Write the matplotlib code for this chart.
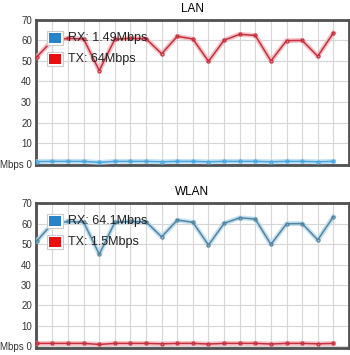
import matplotlib.pyplot as plt
import matplotlib.patheffects as pe
from matplotlib.patches import Rectangle

plt.rcParams['font.family'] = ['Liberation Sans', 'DejaVu Sans']

# samples (one per tick of the refresh interval)
samples = list(range(20))

lan_rx = [1.0, 1.1, 1.1, 1.1, 0.6, 1.1, 1.1, 1.1, 0.9, 1.1, 1.1, 0.9, 1.1, 1.1, 1.1, 0.9, 1.1, 1.1, 0.9, 1.1]
lan_tx = [52, 60, 61, 60.7, 45.3, 60.6, 61, 60.8, 53.5, 62, 60.7, 49.8, 60.1, 63, 62.4, 50, 59.9, 60, 52.3, 63.6]

wlan_rx = [51.5, 60, 61, 60.7, 45, 60.6, 61, 60.8, 53.5, 61.7, 60.6, 49.5, 60.1, 62.8, 62.2, 49.8, 59.9, 60, 52, 63.3]
wlan_tx = [1.5, 1.5, 1.5, 1.5, 1.0, 1.5, 1.5, 1.5, 1.3, 1.5, 1.5, 1.2, 1.5, 1.5, 1.5, 1.2, 1.5, 1.5, 1.3, 1.5]

yticks = [0, 10, 20, 30, 40, 50, 60, 70]
ylabels = ['Mbps 0', '10', '20', '30', '40', '50', '60', '70']

charts = [
    ('LAN', lan_rx, lan_tx, 'RX: 1.49Mbps', 'TX: 64Mbps'),
    ('WLAN', wlan_rx, wlan_tx, 'RX: 64.1Mbps', 'TX: 1.5Mbps'),
]

rx_line = {'LAN': '#4aa6de', 'WLAN': '#55849e'}
rx_glow = '#b4daf0'
tx_line = '#c4303e'
tx_glow = '#f4b4ba'

fig = plt.figure(figsize=(3.5, 3.55), dpi=100)
positions = [[0.103, 0.535, 0.894, 0.409], [0.103, 0.020, 0.894, 0.408]]

for pos, (title, rx, tx, rx_lab, tx_lab) in zip(positions, charts):
    ax = fig.add_axes(pos)
    # flot-like lines with a soft shadow behind them
    for vals, col, glow in [(rx, rx_line[title], rx_glow), (tx, tx_line, tx_glow)]:
        ax.plot(samples, vals, color=col, lw=1.1, zorder=3,
                path_effects=[pe.Stroke(linewidth=3.5, foreground=glow, alpha=0.8), pe.Normal()])
        ax.plot(samples, vals, ls='none', marker='o', ms=2.2, mfc='none',
                mec=col, mew=0.9, zorder=4)

    ax.set_xlim(-0.05, 20)
    ax.set_ylim(-0.7, 70)
    ax.set_xticks(samples)
    ax.set_xticklabels([])
    ax.set_yticks(yticks)
    ax.set_yticklabels(ylabels, fontsize=7, color='#333333')
    ax.tick_params(length=0, pad=3)
    ax.grid(True, color='#d6d6d6', lw=0.8)
    ax.set_axisbelow(True)
    for sp in ax.spines.values():
        sp.set_color('#505050')
        sp.set_linewidth(2)
    ax.set_title(title, fontsize=8.5, pad=6)

    # legend drawn by hand: colour box + label
    for yb, yt, fc, lab in [(0.841, 0.876, '#2a82c8', rx_lab), (0.697, 0.728, '#e81010', tx_lab)]:
        ax.add_patch(Rectangle((0.036, yb - 0.012), 0.05, 0.093, transform=ax.transAxes,
                               facecolor='white', edgecolor='#cccccc', lw=0.8, zorder=5))
        ax.add_patch(Rectangle((0.042, yb), 0.038, 0.069, transform=ax.transAxes,
                               facecolor=fc, edgecolor='none', zorder=6))
        ax.text(0.102, yt, lab, transform=ax.transAxes, fontsize=9, color='#222222',
                va='center', ha='left', zorder=6)

fig.savefig('out.png', dpi=100)
